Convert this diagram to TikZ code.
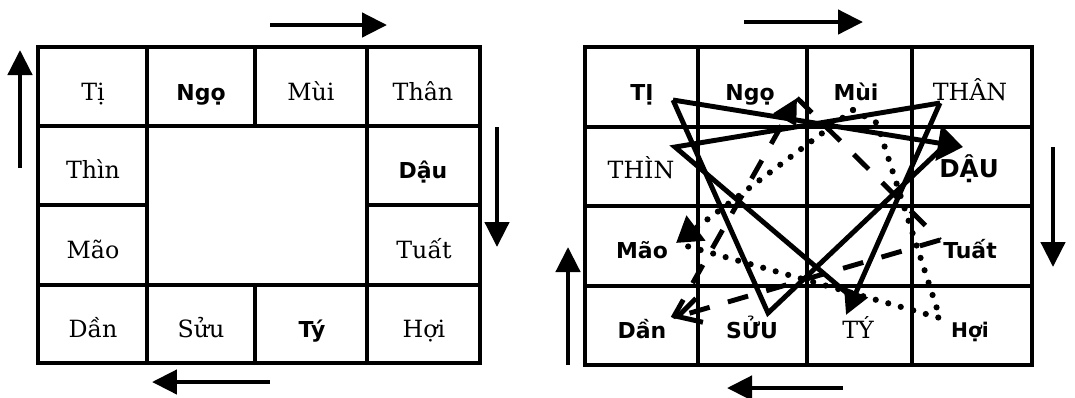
\documentclass[tikz,border=0pt]{standalone}
\usepackage{fontspec}
\setmainfont{DejaVu Serif}
\newfontfamily\chudam{DejaVu Sans}
\usetikzlibrary{arrows.meta}

\begin{document}
\begin{tikzpicture}[x=0.02cm,y=-0.02cm,
  serif/.style={font=\fontsize{13.5}{16}\selectfont,anchor=base,inner sep=0pt},
  dam/.style={font=\chudam\bfseries\fontsize{12.5}{14}\selectfont,anchor=base,inner sep=0pt},
  damR/.style={font=\chudam\bfseries\fontsize{12.5}{14}\selectfont,anchor=base,inner sep=0pt},
  vien/.style={line width=2.6pt},
  khung/.style={line width=2pt},
  chieu/.style={line width=2.6pt,-{Triangle[length=5mm,width=4.8mm]}},
  lien/.style={line width=2.8pt},
  gach/.style={line width=2.8pt,dash pattern=on 0.42cm off 0.38cm},
  cham/.style={line width=3.5pt,line cap=round,dash pattern=on 0pt off 7.4pt}]
\useasboundingbox (0,0) rectangle (1075,397);

% left board
\draw[vien] (38,47) rectangle (480,363);
\foreach \y in {126,285} \draw[khung] (38,\y) -- (480,\y);
\foreach \x in {147,367} \draw[khung] (\x,47) -- (\x,363);
\draw[khung] (38,205) -- (147,205) (367,205) -- (480,205);
\draw[khung] (255,47) -- (255,126) (255,285) -- (255,363);

\node[serif] (l-ti)   at (93,100)  {Tị};
\node[dam]   (l-ngo)  at (201,100) {Ngọ};
\node[serif] (l-mui)  at (311,100) {Mùi};
\node[serif] (l-than) at (423,100) {Thân};
\node[serif] (l-thin) at (93,178)  {Thìn};
\node[dam]   (l-dau)  at (423,178) {Dậu};
\node[serif] (l-mao)  at (93,258)  {Mão};
\node[serif] (l-tuat) at (424,258) {Tuất};
\node[serif] (l-dan)  at (93,337)  {Dần};
\node[serif] (l-suu)  at (201,337) {Sửu};
\node[dam]   (l-ty)   at (312,337) {Tý};
\node[serif] (l-hoi)  at (424,337) {Hợi};

% right board
\draw[vien] (585,47) rectangle (1032,365);
\foreach \x in {698,807,912} \draw[khung] (\x,47) -- (\x,365);
\foreach \y in {127,206,286} \draw[khung] (585,\y) -- (1032,\y);

\node[damR]  (r-ti)   at (642,100) {TỊ};
\node[damR]  (r-ngo)  at (750,100) {Ngọ};
\node[damR]  (r-mui)  at (856,100) {Mùi};
\node[serif] (r-than) at (970,100) {THÂN};
\node[serif] (r-thin) at (641,178) {THÌN};
\node[damR,font=\chudam\bfseries\fontsize{14}{16}\selectfont] (r-dau) at (969,177) {DẬU};
\node[damR]  (r-mao)  at (642,258) {Mão};
\node[damR]  (r-tuat) at (970,258) {Tuất};
\node[damR]  (r-dan)  at (642,338) {Dần};
\node[damR]  (r-suu)  at (752,338) {SỬU};
\node[serif] (r-ty)   at (858,338) {TÝ};
\node[damR,font=\chudam\bfseries\fontsize{11.5}{13}\selectfont] (r-hoi) at (970,337) {Hợi};

\coordinate (p-ti)   at (673,100);
\coordinate (p-dau)  at (963,147);
\coordinate (p-daub) at (940,150);
\coordinate (p-suu)  at (768,313);
\coordinate (p-than) at (940,103);
\coordinate (p-thin) at (675,147);
\coordinate (p-ty)   at (846,315);
\coordinate (p-tyb)  at (855,300);
\coordinate (p-ngo)  at (797,98);
\coordinate (p-tuat) at (940,240);
\coordinate (p-dan)  at (673,318);
\coordinate (p-mao)  at (676,243);
\coordinate (p-mui)  at (853,110);
\coordinate (p-muib) at (877,123);
\coordinate (p-hoi)  at (940,318);

\draw[lien,-{Triangle[length=5mm,width=7mm]}] (p-ti) -- (p-dau);
\draw[lien] (p-daub) -- (p-suu) -- (p-ti);
\draw[lien] (p-than) -- (p-thin) -- (p-tyb);
\draw[lien,-{Triangle[length=5mm,width=5mm]}] (p-than) -- (p-ty);

\draw[gach,-{Triangle[length=5mm,width=5mm]}] (p-dan) -- (p-ngo);
\draw[gach] (p-ngo) -- (p-tuat);
\draw[gach,-{Straight Barb[length=4.5mm,width=5mm]}] (p-tuat) -- (p-dan);

\draw[cham,-{Triangle[length=5mm,width=6mm]}] (p-mui) -- (p-mao);
\draw[cham] (p-mui) -- (p-muib) -- (p-hoi) -- (p-mao);

% direction arrows
\foreach \n/\xa/\ya/\xb/\yb in {lt/270/25/387/25, ll/20/168/20/50, lr/497/127/497/247, lb/270/382/152/382,
  rt/744/22/863/22, rr/1053/147/1053/267, rl/568/365/568/247, rb/843/388/727/388}{
  \coordinate (\n-s) at (\xa,\ya);
  \coordinate (\n-e) at (\xb,\yb);
  \draw[chieu] (\n-s) -- (\n-e);
}
\end{tikzpicture}
\end{document}
